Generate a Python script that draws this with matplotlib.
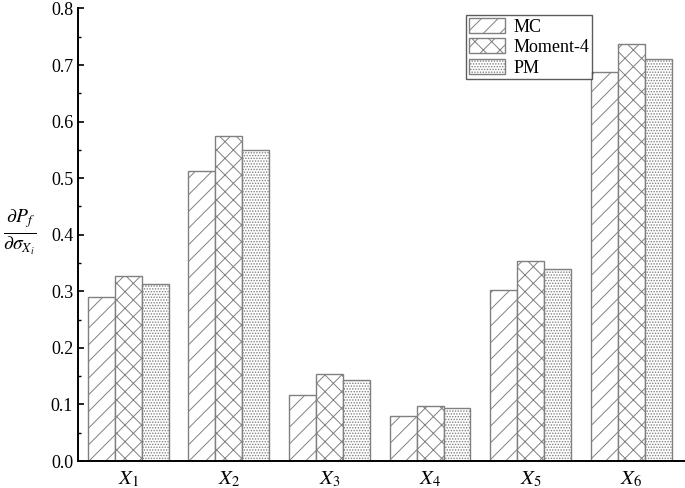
import numpy as np
import matplotlib
matplotlib.use("Agg")
import matplotlib.pyplot as plt

plt.rcParams["font.family"] = ["Liberation Serif", "DejaVu Serif"]
plt.rcParams["mathtext.fontset"] = "stix"
plt.rcParams["hatch.linewidth"] = 0.7
plt.rcParams["hatch.color"] = "#808080"

categories = ["$X_1$", "$X_2$", "$X_3$", "$X_4$", "$X_5$", "$X_6$"]
mc = [0.290, 0.513, 0.117, 0.080, 0.303, 0.687]
moment4 = [0.327, 0.575, 0.154, 0.097, 0.353, 0.737]
pm = [0.313, 0.549, 0.143, 0.093, 0.340, 0.710]

series = [("MC", mc, "//"), ("Moment-4", moment4, "xx"), ("PM", pm, "......")]

fig = plt.figure(figsize=(6.85, 4.88), dpi=100)
ax = fig.add_axes([0.1139, 0.0553, 0.8861, 0.9273])

x = np.arange(len(categories))
w = 0.268
for i, (name, vals, hatch) in enumerate(series):
    ax.bar(x + (i - 1) * w, vals, w, facecolor="white", edgecolor="#808080",
           hatch=hatch, linewidth=1.0, label=name)

ax.set_xlim(-0.5, 5.535)
ax.set_ylim(0, 0.8)
ax.set_xticks(x)
ax.set_xticklabels(categories, fontsize=15)
ax.set_yticks(np.arange(0, 0.81, 0.1))
ax.set_yticklabels(["%.1f" % v for v in np.arange(0, 0.81, 0.1)], fontsize=13)
ax.set_yticks(np.arange(0.05, 0.8, 0.1), minor=True)
ax.tick_params(axis="y", which="major", direction="in", length=4, width=1.2)
ax.tick_params(axis="y", which="minor", direction="in", length=2, width=1.0)
ax.tick_params(axis="x", length=0, pad=6)

ax.spines["top"].set_visible(False)
ax.spines["right"].set_visible(False)
ax.spines["left"].set_linewidth(1.4)
ax.spines["bottom"].set_linewidth(1.4)

ax.text(-0.097, 0.505, r"$\frac{\partial P_f}{\partial \sigma_{X_i}}$",
        transform=ax.transAxes, fontsize=20, ha="center", va="center")

leg = ax.legend(loc="upper left", bbox_to_anchor=(0.639, 0.985), fontsize=13,
                frameon=True, fancybox=False, edgecolor="#333333",
                handlelength=2.0, handleheight=0.9, borderpad=0.15,
                labelspacing=0.15, handletextpad=0.5, borderaxespad=0)
leg.get_frame().set_linewidth(1.0)

fig.savefig("out.png", dpi=100)
